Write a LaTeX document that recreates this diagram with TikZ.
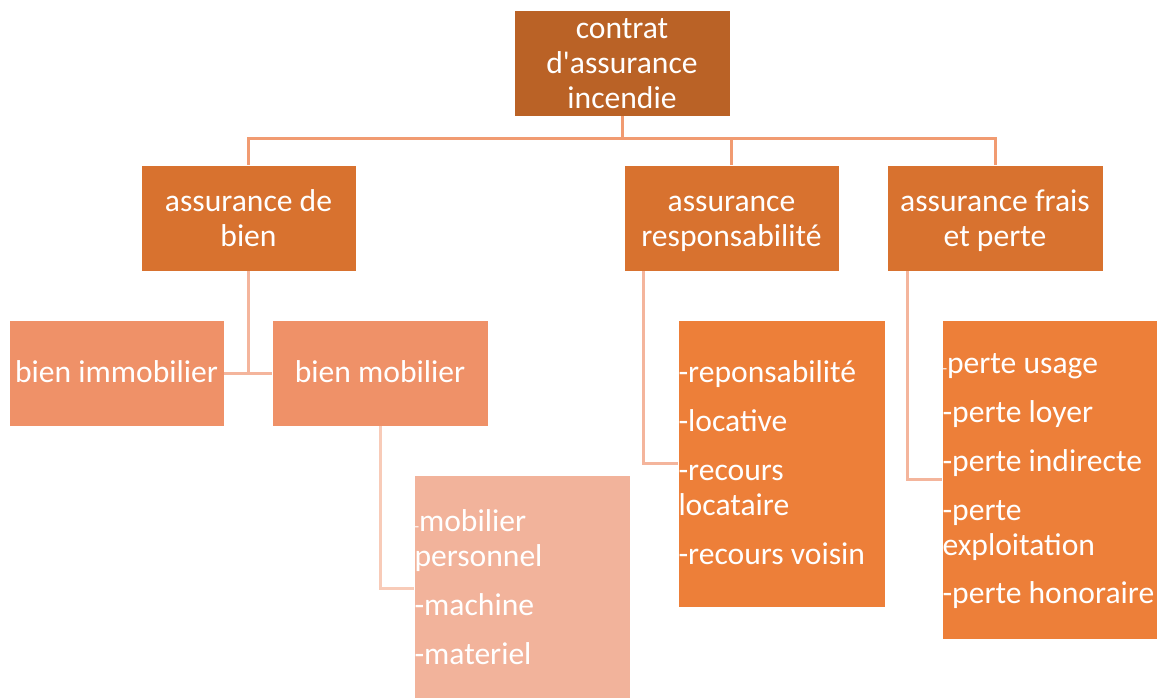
\documentclass[tikz,border=0pt]{standalone}
\usepackage{fontspec}
\setmainfont{Carlito}
\definecolor{rootc}{HTML}{BA6226}
\definecolor{lvlb}{HTML}{D8722F}
\definecolor{lvlc}{HTML}{EF9168}
\definecolor{lvld}{HTML}{F2B39B}
\definecolor{listc}{HTML}{ED7F39}
\definecolor{linea}{HTML}{F19B71}
\definecolor{lineb}{HTML}{F4B59C}
\definecolor{linec}{HTML}{F8CBB8}
\tikzset{
  box/.style={draw=white, line width=0.8pt, inner sep=0pt},
  txt/.style={text=white, inner sep=0pt, font=\fontsize{31.6}{35}\selectfont,
    align=center, execute at begin node=\strut, execute at end node=\strut},
  listtxt/.style={txt, align=flush left, inner xsep=0.5pt},
  link/.style={line width=3pt},
}
\newcommand{\smalldash}{{\fontsize{15}{15}\selectfont -}}
\begin{document}
\begin{tikzpicture}[x=1pt,y=-1pt]
\useasboundingbox (0,0) rectangle (1163,698);
% top level
\node[box, fill=rootc, minimum width=216pt, minimum height=106pt,
  label={[txt, yshift=-6pt]center:{contrat\\d\textquotesingle assurance\\incendie}}] (root) at (622,63) {};
% second level
\node[box, fill=lvlb, minimum width=215pt, minimum height=106pt,
  label={[txt, yshift=-5pt]center:{assurance de\\bien}}] (bien) at (248.5,218) {};
\node[box, fill=lvlb, minimum width=215pt, minimum height=106pt,
  label={[txt, yshift=-9pt]center:{assurance\\responsabilité}}] (resp) at (731.5,218) {};
\node[box, fill=lvlb, minimum width=216pt, minimum height=106pt,
  label={[txt, yshift=-5pt]center:{assurance frais\\et perte}}] (frais) at (995,218) {};
% third level
\node[box, fill=lvlc, minimum width=215pt, minimum height=106pt,
  label={[txt, yshift=-2pt]center:{bien immobilier}}] (immo) at (116.5,373) {};
\node[box, fill=lvlc, minimum width=216pt, minimum height=106pt,
  label={[txt, yshift=-2pt]center:{bien mobilier}}] (mob) at (380,373) {};
% lists
\node[box, fill=lvld, minimum width=216pt, minimum height=226pt,
  label={[listtxt, text width=215pt, yshift=-3pt]center:{\smalldash mobilier\\personnel\\[14pt]-machine\\[14pt]-materiel}}] (mobl) at (522,588) {};
\node[box, fill=listc, minimum width=207pt, minimum height=287pt,
  label={[listtxt, text width=206pt, yshift=-3pt]center:{-reponsabilité\\[14pt]-locative\\[14pt]-recours\\locataire\\[14pt]-recours voisin}}] (respl) at (781.5,463.5) {};
\node[box, fill=listc, minimum width=215pt, minimum height=319pt,
  label={[listtxt, text width=214pt, yshift=-2pt]center:{\smalldash perte usage\\[14pt]-perte loyer\\[14pt]-perte indirecte\\[14pt]-perte\\exploitation\\[14pt]-perte honoraire}}] (pertel) at (1049.5,479.5) {};
% connectors
\coordinate (bus) at (622,139);
\draw[link, linea] (root.south) -- (bus);
\draw[link, linea] (bien.north) |- (bus) -| (frais.north);
\draw[link, linea] (bus -| resp.north) -- (resp.north);
\draw[link, lineb] (bien.south) |- (immo.east);
\draw[link, lineb] (bien.south |- immo.east) -- (mob.west);
\draw[link, linec] (mob.south) |- (mobl.west);
\coordinate (respdrop) at ([xshift=20pt]resp.south west);
\draw[link, lineb] (respdrop) |- (respl.west);
\coordinate (fraisdrop) at ([xshift=21pt]frais.south west);
\draw[link, lineb] (fraisdrop) |- (pertel.west);
\end{tikzpicture}
\end{document}
